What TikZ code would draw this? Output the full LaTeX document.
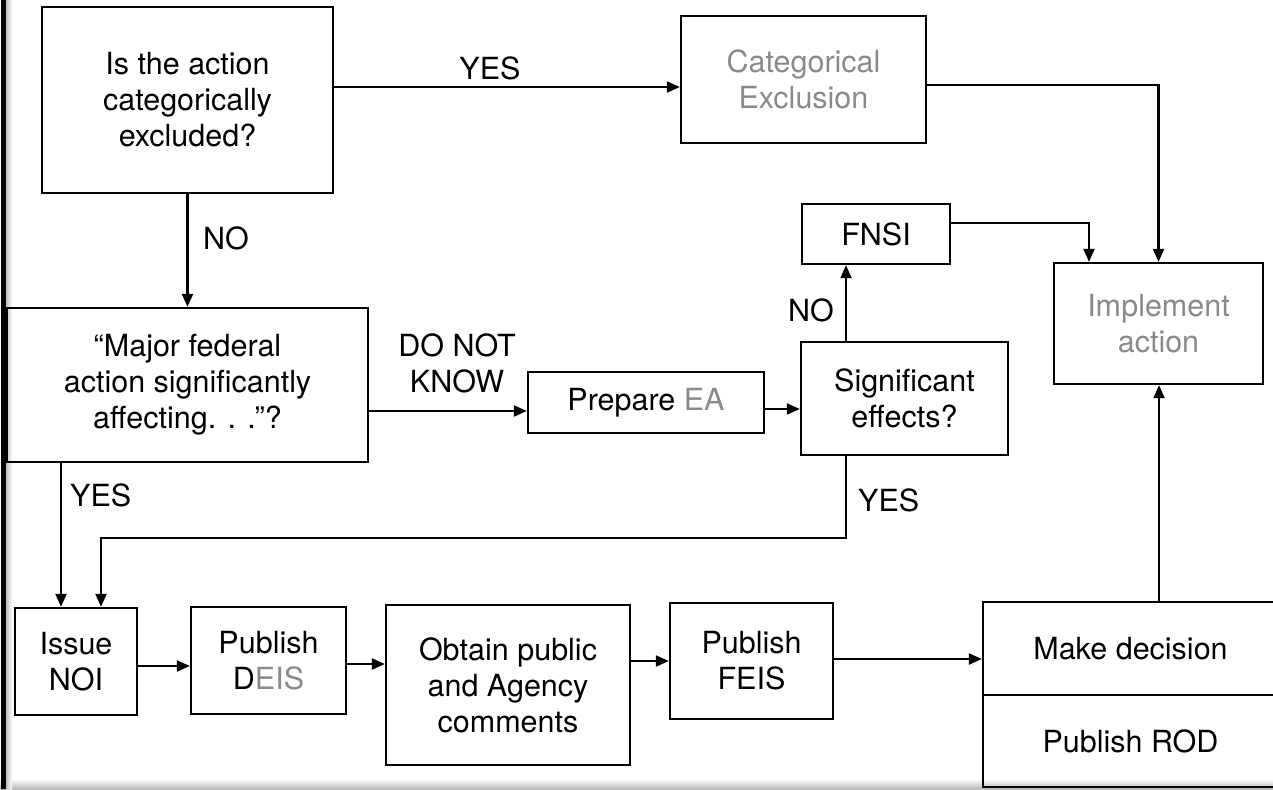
\documentclass[tikz,border=0pt]{standalone}
\usepackage{fontspec}
\setmainfont{TeX Gyre Heros}
\usetikzlibrary{arrows.meta,calc}
\definecolor{graytxt}{HTML}{8A8A8A}
\begin{document}
\begin{tikzpicture}[x=1pt,y=-1pt,
  box/.style={draw,line width=2.3pt,inner sep=0pt,align=center,font=\fontsize{30.5}{36}\selectfont},
  arr/.style={line width=2.1pt,-{Triangle[length=13pt,width=11pt]}},
  lbl/.style={font=\fontsize{30.5}{36}\selectfont,inner sep=0pt,align=center}]
\useasboundingbox (0,0) rectangle (1273,789);
% scan edges
\shade[top color=white,bottom color=gray!55] (0,779) rectangle (1273,789);
\fill[black] (1,0) rectangle (6,789);
\shade[left color=gray!50,right color=white] (6,0) rectangle (12,789);
% boxes
\node[box,minimum width=291pt,minimum height=186pt] (q1) at (187.5,100) {Is the action\\categorically\\excluded?};
\node[box,minimum width=245pt,minimum height=127pt,text=graytxt] (cat) at (803.5,79.5) {Categorical\\Exclusion};
\node[box,minimum width=148pt,minimum height=60pt] (fnsi) at (876,234) {FNSI};
\node[box,minimum width=209pt,minimum height=121pt,text=graytxt] (impl) at (1158.5,323.5) {Implement\\action};
\node[box,minimum width=207pt,minimum height=113pt] (sig) at (904.5,398.5) {Significant\\effects?};
\node[box,minimum width=236pt,minimum height=61pt] (ea) at (646,402.5) {Prepare \textcolor{graytxt}{EA}};
\node[box,minimum width=361pt,minimum height=154pt] (major) at (187.5,385) {“Major federal\\action significantly\\affecting. . .”?};
\node[box,minimum width=122pt,minimum height=107pt] (noi) at (76,661.5) {Issue\\NOI};
\node[box,minimum width=155pt,minimum height=107pt] (deis) at (268.5,660.5) {Publish\\D\textcolor{graytxt}{EIS}};
\node[box,minimum width=244pt,minimum height=160pt] (obt) at (508,685) {Obtain public\\and Agency\\comments};
\node[box,minimum width=163pt,minimum height=116pt] (feis) at (751.5,661) {Publish\\FEIS};
\node[box,minimum width=295pt,minimum height=93pt] (dec) at (1130.5,648.5) {Make decision};
\node[box,minimum width=295pt,minimum height=92pt] (rod) at (1130.5,741) {Publish ROD};
% connectors
\draw[arr] (q1.east |- 0,87) -- (cat.west |- 0,87);
\node[lbl] (yes1) at (490,68) {YES};
\draw[arr] (cat.east |- 0,85) -| (impl.north);
\draw[arr] (fnsi.east |- 0,223) -| (impl.north -| 1089,0);
\draw[arr] (sig.north -| 846,0) -- (fnsi.south -| 846,0);
\node[lbl,anchor=east] (no2) at (834,310) {NO};
\draw[arr] (major.east |- 0,411) -- (ea.west |- 0,411);
\node[lbl] (dnk) at (457,363) {DO NOT\\KNOW};
\draw[arr] (ea.east |- 0,409) -- (sig.west |- 0,409);
\draw[arr] (q1.south) -- (major.north);
\node[lbl,anchor=west] (no1) at (203,238) {NO};
\draw[arr] (major.south -| 61,0) -- (noi.north -| 61,0);
\node[lbl,anchor=west] (yes2) at (70,495) {YES};
\coordinate (c1) at (846,538);
\coordinate (c2) at (101,538);
\draw[arr] (sig.south -| c1) -- (c1) -- (c2) -- (noi.north -| c2);
\node[lbl,anchor=west] (yes3) at (858,500) {YES};
\draw[arr] (noi.east |- 0,666) -- (deis.west |- 0,666);
\draw[arr] (deis.east |- 0,664) -- (obt.west |- 0,664);
\draw[arr] (obt.east |- 0,661) -- (feis.west |- 0,661);
\draw[arr] (feis.east |- 0,659) -- (dec.west |- 0,659);
\draw[arr] (dec.north -| 1159,0) -- (impl.south -| 1159,0);
\end{tikzpicture}
\end{document}
